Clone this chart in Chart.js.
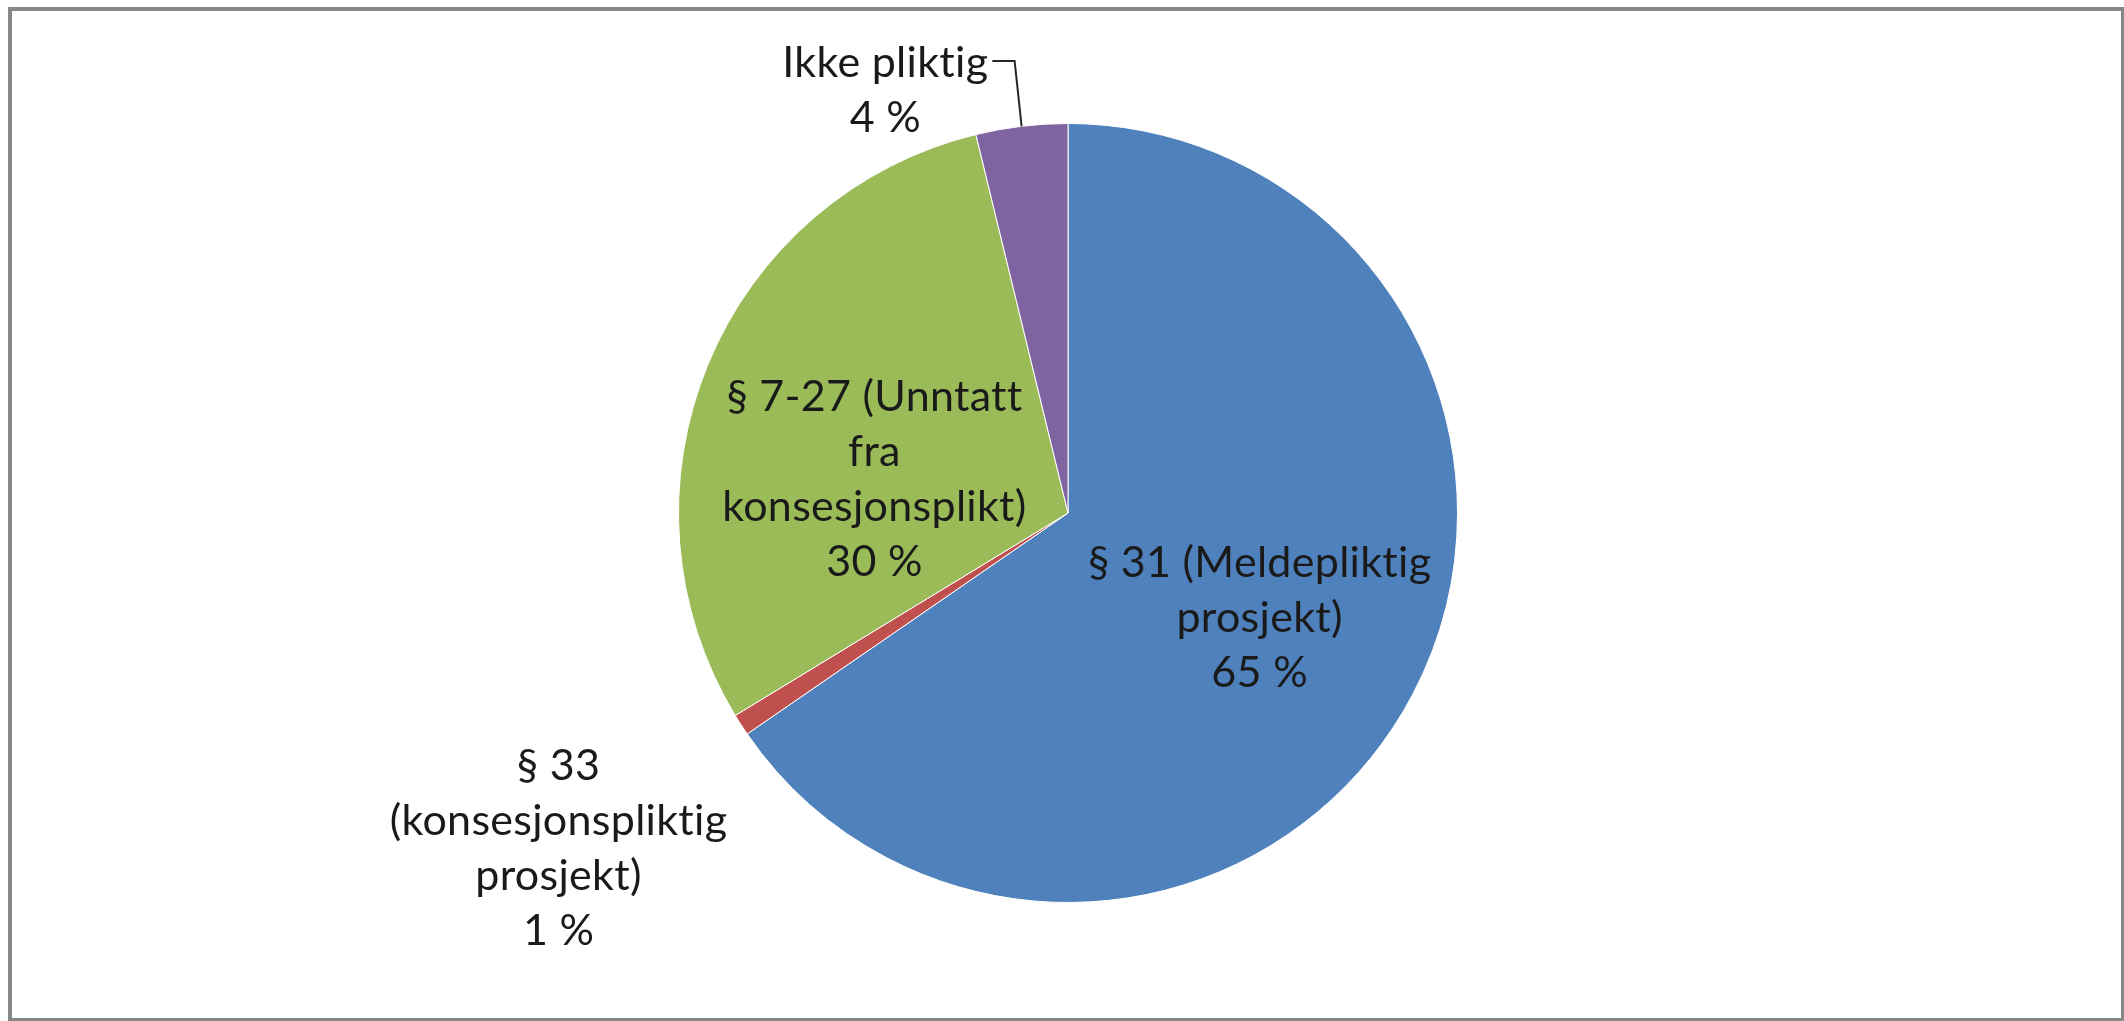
<!DOCTYPE html>
<html>
<head>
<meta charset="utf-8">
<script src="https://cdn.jsdelivr.net/npm/chart.js@4/dist/chart.umd.min.js"></script>
<style>
  html, body { margin: 0; padding: 0; background: #fff; width: 2124px; height: 1021px; overflow: hidden; }
  #wrap { position: absolute; left: 0; top: 0; width: 2124px; height: 1021px; }
  #frame { position: absolute; left: 8px; top: 7px; width: 2117px; height: 1015px; box-sizing: border-box; border: 4px solid #878787; pointer-events: none; }
</style>
</head>
<body>
<div id="wrap"><canvas id="c" width="2124" height="1021"></canvas></div>
<div id="frame"></div>
<script>
// ---- data ----
const categories = [
  ['§ 31 (Meldepliktig', 'prosjekt)'],
  ['§ 33', '(konsesjonspliktig', 'prosjekt)'],
  ['§ 7-27 (Unntatt', 'fra', 'konsesjonsplikt)'],
  ['Ikke pliktig']
];
const shares = [65.4, 0.9, 29.9, 3.8];
const colors = ['#4F81BD', '#C0504D', '#9BBB59', '#8064A2'];
// label anchor offsets, in units of the pie radius, relative to the pie centre
const labelOffsets = [[0.492, 0.269], [-1.308, 0.862], [-0.497, -0.085], [-0.469, -1.085]];
const leaderSlices = [3];

const FONT = '43px Lato, "Open Sans", sans-serif';
const LINE_H = 55;

const labelPlugin = {
  id: 'pieLabels',
  afterDatasetsDraw(chart) {
    const ctx = chart.ctx;
    const meta = chart.getDatasetMeta(0);
    const total = shares.reduce((a, b) => a + b, 0);
    ctx.save();
    ctx.font = FONT;
    if ('letterSpacing' in ctx) ctx.letterSpacing = '0.3px'; // avoids "ti" ligature
    ctx.fillStyle = '#1a1a1a';
    ctx.textAlign = 'center';
    ctx.textBaseline = 'middle';
    meta.data.forEach((arc, i) => {
      const r = arc.outerRadius;
      const cx = arc.x + labelOffsets[i][0] * r;
      const cy = arc.y + labelOffsets[i][1] * r;
      const lines = categories[i].concat([Math.round(shares[i] / total * 100) + ' %']);
      const y0 = cy - (lines.length - 1) * LINE_H / 2;
      lines.forEach((t, k) => ctx.fillText(t, cx, y0 + k * LINE_H));
      if (leaderSlices.includes(i)) {
        const w = ctx.measureText(lines[0]).width;
        const sx = cx + w / 2 + 4;
        const sy = y0 - 2;
        const mid = (arc.startAngle + arc.endAngle) / 2;
        const ex = arc.x + Math.cos(mid) * r;
        const ey = arc.y + Math.sin(mid) * r;
        ctx.beginPath();
        ctx.strokeStyle = '#262626';
        ctx.lineWidth = 2;
        ctx.moveTo(sx, sy);
        ctx.lineTo(ex - 7, sy);
        ctx.lineTo(ex, ey);
        ctx.stroke();
      }
    });
    ctx.restore();
  }
};

new Chart(document.getElementById('c'), {
  type: 'pie',
  data: {
    labels: categories,
    datasets: [{
      data: shares,
      backgroundColor: colors,
      borderColor: '#ffffff',
      borderWidth: 1
    }]
  },
  options: {
    responsive: false,
    animation: false,
    devicePixelRatio: 1,
    layout: { padding: { left: 12, right: 0, top: 123, bottom: 118 } },
    plugins: { legend: { display: false }, tooltip: { enabled: false } }
  },
  plugins: [labelPlugin]
});
</script>
</body>
</html>
